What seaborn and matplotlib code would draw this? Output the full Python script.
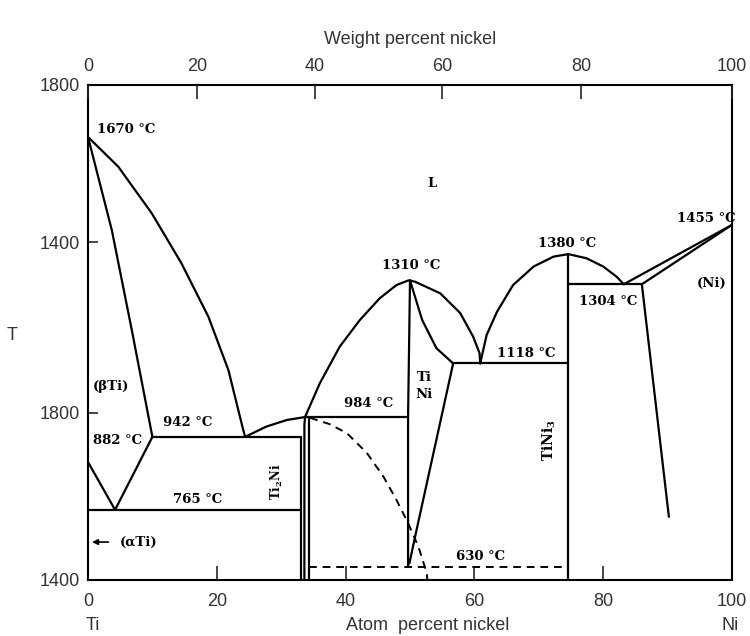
import pandas as pd
import seaborn as sns
import matplotlib.pyplot as plt

# --- DATA: phase boundaries, atom percent Ni vs temperature (deg C) ---
liq_beta_x = [0, 4.7, 9.9, 14.5, 18.7, 21.8, 24.1, 24.4]
liq_beta_t = [1674, 1602, 1489, 1368, 1238, 1109, 964, 947]
sol_beta_x = [0, 3.7, 6.8, 10.0]
sol_beta_t = [1674, 1448, 1206, 947]
beta_solvus_x = [10.0, 4.2]
beta_solvus_t = [947, 770]
alpha_beta_x = [0, 4.2]
alpha_beta_t = [886, 770]
eutectoid_x = [0, 33.0]
eutectoid_t = [770, 770]
eutectic_x = [10.0, 33.0]
eutectic_t = [947, 947]
ti2ni_left_x = [33.0, 33.0]
ti2ni_left_t = [947, 600]
ti2ni_right_x = [33.7, 33.6, 33.6]
ti2ni_right_t = [995, 975, 600]
liq_ti2ni_x = [24.4, 27.7, 30.9, 33.7]
liq_ti2ni_t = [947, 972, 988, 995]
liq_tini_left_x = [33.7, 36.0, 39.1, 42.2, 45.3, 47.9, 49.7, 50.0]
liq_tini_left_t = [995, 1077, 1166, 1230, 1283, 1315, 1326, 1326]
peritectic_x = [33.7, 49.7]
peritectic_t = [995, 995]
tini_ti_side_x = [34.3, 34.3]
tini_ti_side_t = [995, 600]
tini_center_x = [50.0, 49.7, 49.7]
tini_center_t = [1326, 995, 632]
sol_tini_right_x = [50.0, 51.9, 54.1, 56.7]
sol_tini_right_t = [1326, 1230, 1162, 1125]
liq_tini_right_x = [50.0, 50.8, 54.7, 57.8, 59.8, 60.8, 60.9]
liq_tini_right_t = [1326, 1323, 1295, 1247, 1190, 1150, 1125]
solvus_tini_x = [56.7, 51.0, 49.9]
solvus_tini_t = [1125, 720, 640]
eutectic2_x = [56.7, 74.6]
eutectic2_t = [1125, 1125]
liq_tini3_x = [60.9, 61.9, 63.5, 66.0, 69.2, 72.3, 74.6, 77.4, 80.0, 82.1, 83.2]
liq_tini3_t = [1125, 1194, 1250, 1315, 1360, 1384, 1390, 1380, 1360, 1335, 1317]
tini3_x = [74.6, 74.6]
tini3_t = [1390, 600]
eutectic3_x = [74.6, 86.0]
eutectic3_t = [1317, 1317]
ni_solvus_x = [86.0, 90.2]
ni_solvus_t = [1317, 753]
ni_liq_x = [83.2, 100]
ni_liq_t = [1317, 1461]
ni_sol_x = [86.0, 100]
ni_sol_t = [1317, 1461]

# dashed (ordering) boundaries
order_x = [34.5, 37.5, 40.2, 43.3, 45.9, 47.9, 49.7, 51.3, 52.6, 52.7]
order_t = [993, 978, 956, 908, 850, 794, 738, 681, 617, 600]
ordline_x = [34.3, 74.6]
ordline_t = [632, 632]

solid = {
    "liq_beta": (liq_beta_x, liq_beta_t), "sol_beta": (sol_beta_x, sol_beta_t),
    "beta_solvus": (beta_solvus_x, beta_solvus_t), "alpha_beta": (alpha_beta_x, alpha_beta_t),
    "eutectoid": (eutectoid_x, eutectoid_t), "eutectic": (eutectic_x, eutectic_t),
    "ti2ni_l": (ti2ni_left_x, ti2ni_left_t), "ti2ni_r": (ti2ni_right_x, ti2ni_right_t),
    "liq_ti2ni": (liq_ti2ni_x, liq_ti2ni_t), "liq_tini_l": (liq_tini_left_x, liq_tini_left_t),
    "peritectic": (peritectic_x, peritectic_t), "tini_ti": (tini_ti_side_x, tini_ti_side_t),
    "tini_c": (tini_center_x, tini_center_t), "sol_tini_r": (sol_tini_right_x, sol_tini_right_t),
    "liq_tini_r": (liq_tini_right_x, liq_tini_right_t), "solvus_tini": (solvus_tini_x, solvus_tini_t),
    "eutectic2": (eutectic2_x, eutectic2_t), "liq_tini3": (liq_tini3_x, liq_tini3_t),
    "tini3": (tini3_x, tini3_t), "eutectic3": (eutectic3_x, eutectic3_t),
    "ni_solvus": (ni_solvus_x, ni_solvus_t), "ni_liq": (ni_liq_x, ni_liq_t),
    "ni_sol": (ni_sol_x, ni_sol_t),
}
dashed = {"order": (order_x, order_t), "ordline": (ordline_x, ordline_t)}

y_ticks = [1800, 1419, 1005, 600]
y_tick_labels = ["1800", "1400", "1800", "1400"]
x_ticks = [0, 20, 40, 60, 80, 100]
wt_ticks = [0, 20, 40, 60, 80, 100]


def to_frame(segs):
    rows = []
    for name, (xs, ts) in segs.items():
        for i, (x, t) in enumerate(zip(xs, ts)):
            rows.append({"seg": name, "order": i, "at": x, "T": t})
    return pd.DataFrame(rows)


def wt_to_at(w):
    ni = w / 58.69
    ti = (100 - w) / 47.87
    return ni / (ni + ti) * 100


sns.set_style("white")
plt.rcParams["font.family"] = ["Liberation Sans", "DejaVu Sans"]
plt.rcParams["mathtext.fontset"] = "dejavuserif"

fig = plt.figure(figsize=(7.5, 6.36), dpi=100)
ax = fig.add_axes([88 / 750, 1 - 580 / 636, 644 / 750, 495 / 636])

sns.lineplot(data=to_frame(solid), x="at", y="T", units="seg", estimator=None,
             sort=False, color="black", lw=1.6, ax=ax)
sns.lineplot(data=to_frame(dashed), x="at", y="T", units="seg", estimator=None,
             sort=False, color="black", lw=1.4, ax=ax, linestyle=(0, (4, 3)))

ax.set_xlim(0, 100)
ax.set_ylim(600, 1800)
ax.set_xlabel("")
ax.set_ylabel("")
for s in ax.spines.values():
    s.set_linewidth(1.5)
    s.set_color("black")

grey = "#333333"
ax.set_yticks(y_ticks)
ax.set_yticklabels(y_tick_labels)
ax.set_xticks(x_ticks)
ax.set_xticklabels([str(v) for v in x_ticks])
ax.tick_params(axis="y", direction="in", length=7, width=1.2, pad=6,
               labelsize=13, labelcolor=grey, right=False, left=True)
ax.tick_params(axis="x", direction="in", length=10, width=1.2, pad=9,
               labelsize=13, labelcolor=grey, bottom=True, top=False)

top = ax.twiny()
top.set_xlim(0, 100)
top.set_xticks([wt_to_at(w) for w in wt_ticks])
top.set_xticklabels([str(w) for w in wt_ticks])
top.tick_params(axis="x", direction="in", length=10, width=1.2, pad=7,
                labelsize=13, labelcolor=grey)
for s in top.spines.values():
    s.set_visible(False)

# axis titles
fig.text(410 / 750, 1 - 40 / 636, "Weight percent nickel", ha="center", va="center",
         fontsize=13, color=grey)
fig.text(428 / 750, 1 - 625 / 636, "Atom  percent nickel", ha="center", va="center",
         fontsize=13, color=grey)
fig.text(93 / 750, 1 - 625 / 636, "Ti", ha="center", va="center", fontsize=13, color=grey)
fig.text(730 / 750, 1 - 625 / 636, "Ni", ha="center", va="center", fontsize=13, color=grey)
fig.text(12 / 750, 1 - 335 / 636, "T", ha="center", va="center", fontsize=13, color=grey)

# phase labels
lab = dict(family="DejaVu Serif", weight="bold", fontsize=9.5, color="black")
ax.text(1.4, 1691, "1670 °C", ha="left", va="center", **lab)
ax.text(53.4, 1562, "L", ha="center", va="center", **lab)
ax.text(50.2, 1362, "1310 °C", ha="center", va="center", **lab)
ax.text(74.4, 1415, "1380 °C", ha="center", va="center", **lab)
ax.text(96.0, 1477, "1455 °C", ha="center", va="center", **lab)
ax.text(96.8, 1318, "(Ni)", ha="center", va="center", **lab)
ax.text(80.7, 1274, "1304 °C", ha="center", va="center", **lab)
ax.text(68.0, 1148, "1118 °C", ha="center", va="center", **lab)
ax.text(52.2, 1070, "Ti\nNi", ha="center", va="center", linespacing=1.45, **lab)
ax.text(43.5, 1027, "984 °C", ha="center", va="center", **lab)
ax.text(0.8, 1068, "(βTi)", ha="left", va="center", **lab)
ax.text(11.7, 981, "942 °C", ha="left", va="center", **lab)
ax.text(0.8, 939, "882 °C", ha="left", va="center", **lab)
ax.text(13.2, 794, "765 °C", ha="left", va="center", **lab)
ax.text(5.0, 692, "(αTi)", ha="left", va="center", **lab)
ax.text(61.0, 656, "630 °C", ha="center", va="center", **lab)
ax.annotate("", xy=(0.2, 692), xytext=(3.6, 692),
            arrowprops=dict(arrowstyle="-|>", color="black", lw=1.2, mutation_scale=8))
ax.text(29.3, 838, r"$\mathbf{Ti_2Ni}$", rotation=90, ha="center", va="center",
        fontsize=8.5, color="black")
ax.text(71.6, 939, r"$\mathbf{TiNi_3}$", rotation=90, ha="center", va="center",
        fontsize=10, color="black")

plt.savefig("out.png", dpi=100)
